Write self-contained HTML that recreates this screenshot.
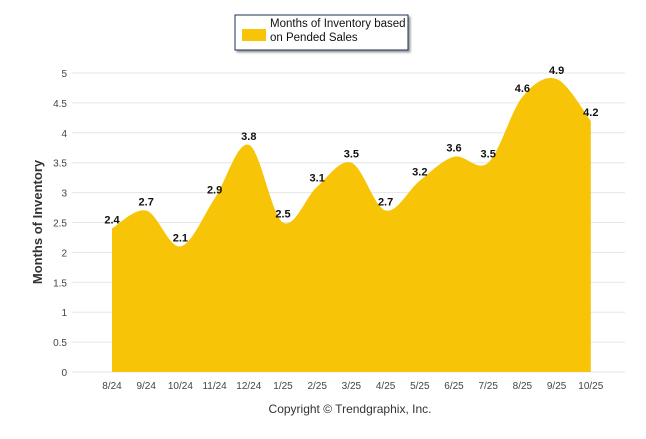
<!DOCTYPE html>
<html><head><meta charset="utf-8"><style>
body{margin:0;background:#fff;width:646px;height:434px;overflow:hidden;font-family:"Liberation Sans",sans-serif}
</style></head><body>
<svg id="c" width="646" height="434" xmlns="http://www.w3.org/2000/svg">
<g>
<rect x="235" y="15" width="173" height="35" fill="#fff" stroke="#1f3050" stroke-width="1" style="filter:drop-shadow(2px 2px 1px #999)"/>
<rect x="242" y="29" width="24" height="12" fill="#f7c408"/>
<text x="270" y="27" font-size="11.5" fill="#111">Months of Inventory based</text>
<text x="270" y="41" font-size="11.5" fill="#111">on Pended Sales</text>
</g>
<text transform="translate(42,222) rotate(-90)" text-anchor="middle" font-size="13" font-weight="bold" fill="#333">Months of Inventory</text>
<text x="350" y="413" text-anchor="middle" font-size="12" fill="#333">Copyright © Trendgraphix, Inc.</text>
<g id="grid"></g><g id="area"></g><g id="labels"></g>
</svg>
<script>
const categories=["8/24","9/24","10/24","11/24","12/24","1/25","2/25","3/25","4/25","5/25","6/25","7/25","8/25","9/25","10/25"];
const values=[2.4,2.7,2.1,2.9,3.8,2.5,3.1,3.5,2.7,3.2,3.6,3.5,4.6,4.9,4.2];
const yTicks=[0,0.5,1,1.5,2,2.5,3,3.5,4,4.5,5];
const NS="http://www.w3.org/2000/svg";
const x=i=>112+i*34.2;
const y=v=>372-v*59.8;
function mk(t,a,p){const e=document.createElementNS(NS,t);for(const k in a)e.setAttribute(k,a[k]);p.appendChild(e);return e;}
const grid=document.getElementById('grid');
yTicks.forEach(v=>{
 const l=mk('line',{x1:72,x2:625,y1:y(v),y2:y(v),stroke:'#e6e6e6'},grid);
 
 
 const t=mk('text',{x:67,y:y(v)+4,'text-anchor':'end','font-size':10,fill:'#444'},grid);
 t.textContent=v;
 
 
});
categories.forEach((c,i)=>{
 const t=mk('text',{x:x(i),y:389,'text-anchor':'middle','font-size':10,fill:'#444'},grid);
 t.textContent=c;
 
 
});
// smooth path (Catmull-Rom)
const pts=values.map((v,i)=>[x(i),y(v)]);
let d=`M${pts[0][0]},${y(0)} L${pts[0][0]},${pts[0][1]}`;
for(let i=0;i<pts.length-1;i++){
 const p0=pts[Math.max(0,i-1)],p1=pts[i],p2=pts[i+1],p3=pts[Math.min(pts.length-1,i+2)];
 const k=1/6;
 d+=` C${p1[0]+(p2[0]-p0[0])*k},${p1[1]+(p2[1]-p0[1])*k} ${p2[0]-(p3[0]-p1[0])*k},${p2[1]-(p3[1]-p1[1])*k} ${p2[0]},${p2[1]}`;
}
d+=` L${pts[pts.length-1][0]},${y(0)} Z`;
const a=mk('path',{d:d,fill:'#f7c408'},document.getElementById('area'));


const lab=document.getElementById('labels');
values.forEach((v,i)=>{
 const t=mk('text',{x:x(i),y:y(v)-5,'text-anchor':'middle','font-size':11,'font-weight':'bold',fill:'#111'},lab);
 t.textContent=v.toFixed(1);
 
 
});
</script>
</body></html>
